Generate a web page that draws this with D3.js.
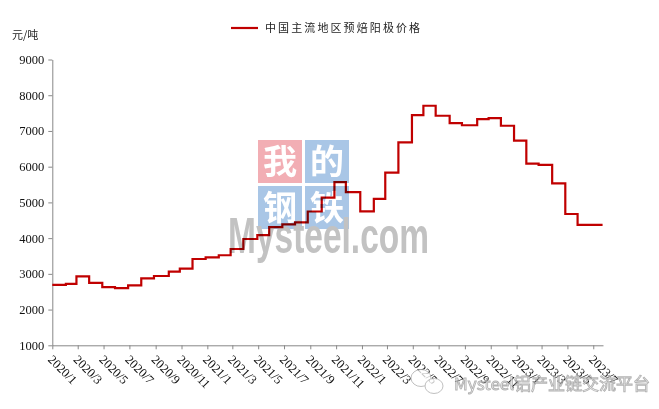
<!DOCTYPE html>
<html>
<head>
<meta charset="utf-8">
<script src="https://cdn.jsdelivr.net/npm/d3@7"></script>
<style>
html,body{margin:0;padding:0;background:#fff;}
svg{display:block;}
</style>
</head>
<body>
<svg id="chart" width="659" height="409"></svg>
<script>
// ---- data ----
const seriesName = "中国主流地区预焙阳极价格";
const unitLabel = "元/吨";
const changeDates = [
  "2020-01-01","2020-02-02","2020-02-27","2020-03-28","2020-04-28","2020-05-28",
  "2020-06-28","2020-07-29","2020-08-28","2020-10-02","2020-10-28","2020-11-27",
  "2020-12-28","2021-01-28","2021-02-25","2021-03-27","2021-04-29","2021-05-27",
  "2021-06-27","2021-07-27","2021-08-26","2021-09-28","2021-10-28","2021-11-24",
  "2021-12-28","2022-01-29","2022-02-25","2022-03-28","2022-04-29","2022-05-26",
  "2022-06-24","2022-07-27","2022-08-25","2022-09-30","2022-10-27","2022-11-25",
  "2022-12-26","2023-01-24","2023-02-22","2023-03-26","2023-04-26","2023-05-25"
];
const prices = [
  2690, 2720, 2930, 2750, 2630, 2600,
  2680, 2875, 2940, 3060, 3145, 3415,
  3460, 3520, 3695, 3975, 4085, 4310,
  4385, 4440, 4745, 5135, 5570, 5290,
  4750, 5100, 5835, 6680, 7445, 7705,
  7425, 7220, 7160, 7330, 7360, 7145,
  6730, 6085, 6050, 5535, 4675, 4370
];
const lastDate = "2023-07-23";
const yTicks = [1000, 2000, 3000, 4000, 5000, 6000, 7000, 8000, 9000];
const axisStart = "2020-01-01";
const axisEnd = "2023-07-24";

// ---- build ----
(function () {
const parse = d3.timeParse("%Y-%m-%d");
const pts = changeDates.map((d, i) => ({date: parse(d), value: prices[i]}));
pts.push({date: parse(lastDate), value: prices[prices.length - 1]});

const svg = d3.select("#chart");
const mLeft = 52.3, mRight = 603, mTop = 59.5, mBottom = 345.3;

const x = d3.scaleTime().domain([parse(axisStart), parse(axisEnd)]).range([mLeft, mRight]);
const y = d3.scaleLinear().domain([1000, 9000]).range([mBottom, mTop]);

// y axis
const yAxis = svg.append("g").attr("transform", `translate(${mLeft},0)`)
  .call(d3.axisLeft(y).tickValues(yTicks).tickSize(4).tickSizeOuter(0).tickPadding(4).tickFormat(d3.format("d")));
yAxis.select(".domain").attr("stroke", "#888");
yAxis.selectAll(".tick line").attr("stroke", "#888");
yAxis.selectAll("text").attr("font-family", "'Liberation Serif','Times New Roman',serif")
  .attr("font-size", 12.5).attr("fill", "#111");

// x axis
const xAxis = svg.append("g").attr("transform", `translate(0,${mBottom})`)
  .call(d3.axisBottom(x).ticks(d3.timeMonth.every(2)).tickSize(4).tickSizeOuter(0).tickFormat(d3.timeFormat("%Y/%-m")));
xAxis.select(".domain").attr("stroke", "#888");
xAxis.selectAll(".tick line").attr("stroke", "#888");
xAxis.selectAll("text")
  .attr("font-family", "'Liberation Serif','Times New Roman',serif")
  .attr("font-size", 12.5).attr("fill", "#111")
  .attr("text-anchor", "start")
  .attr("dy", null).attr("y", null)
  .attr("transform", "translate(-5.5,15) rotate(45)");

// line
const line = d3.line().curve(d3.curveStepAfter).x(d => x(d.date)).y(d => y(d.value));
svg.append("path").datum(pts).attr("d", line)
  .attr("fill", "none").attr("stroke", "#c00000").attr("stroke-width", 2.2)
  .attr("stroke-linejoin", "miter");

// unit label
svg.append("text").attr("x", 12).attr("y", 39).text(unitLabel)
  .attr("font-family", "'Noto Sans CJK SC',sans-serif").attr("font-size", 11).attr("fill", "#222");

// legend
svg.append("line").attr("x1", 231).attr("x2", 258).attr("y1", 28).attr("y2", 28)
  .attr("stroke", "#c00000").attr("stroke-width", 2.2);
svg.append("text").attr("x", 265).attr("y", 32).text(seriesName)
  .attr("font-family", "'Noto Sans CJK SC',sans-serif").attr("font-size", 11)
  .attr("letter-spacing", 2.1).attr("fill", "#222");

// watermark (logo) overlaid with multiply
const wm = svg.append("g").style("mix-blend-mode", "multiply");
const boxes = [
  {t: "我", x: 258, y: 140, c: "#f2aeb4"},
  {t: "的", x: 305, y: 140, c: "#a9c6e6"},
  {t: "钢", x: 258, y: 186, c: "#a9c6e6"},
  {t: "铁", x: 305, y: 186, c: "#a9c6e6"}
];
boxes.forEach(b => {
  wm.append("rect").attr("x", b.x).attr("y", b.y).attr("width", 44).attr("height", 43).attr("fill", b.c);
  wm.append("text").attr("x", b.x + 22).attr("y", b.y + 34).attr("text-anchor", "middle")
    .attr("font-family", "'Noto Sans CJK SC',sans-serif").attr("font-weight", 700)
    .attr("font-size", 34).attr("fill", "#fff").text(b.t);
});
wm.append("text").attr("x", 228).attr("y", 253).text("Mysteel.com")
  .attr("font-family", "'Liberation Sans',Arial,sans-serif").attr("font-weight", 700)
  .attr("font-size", 50).attr("fill", "#c2c2c2")
  .attr("textLength", 201).attr("lengthAdjust", "spacingAndGlyphs");

// WeChat watermark at bottom right
const wc = svg.append("g").attr("opacity", 0.75);
wc.append("ellipse").attr("cx", 421).attr("cy", 378).attr("rx", 10).attr("ry", 8.5)
  .attr("fill", "#fff").attr("stroke", "#aaa").attr("stroke-width", 1);
wc.append("ellipse").attr("cx", 434).attr("cy", 386).attr("rx", 9).attr("ry", 7.5)
  .attr("fill", "#fff").attr("stroke", "#aaa").attr("stroke-width", 1);
wc.append("text").attr("x", 454).attr("y", 390).text("Mysteel铝产业链交流平台")
  .attr("font-family", "'Noto Sans CJK SC',sans-serif").attr("font-size", 16.5)
  .attr("fill", "#fff").attr("stroke", "#999").attr("stroke-width", 0.9)
  .attr("textLength", 196).attr("lengthAdjust", "spacingAndGlyphs");
})();
</script>
</body>
</html>
